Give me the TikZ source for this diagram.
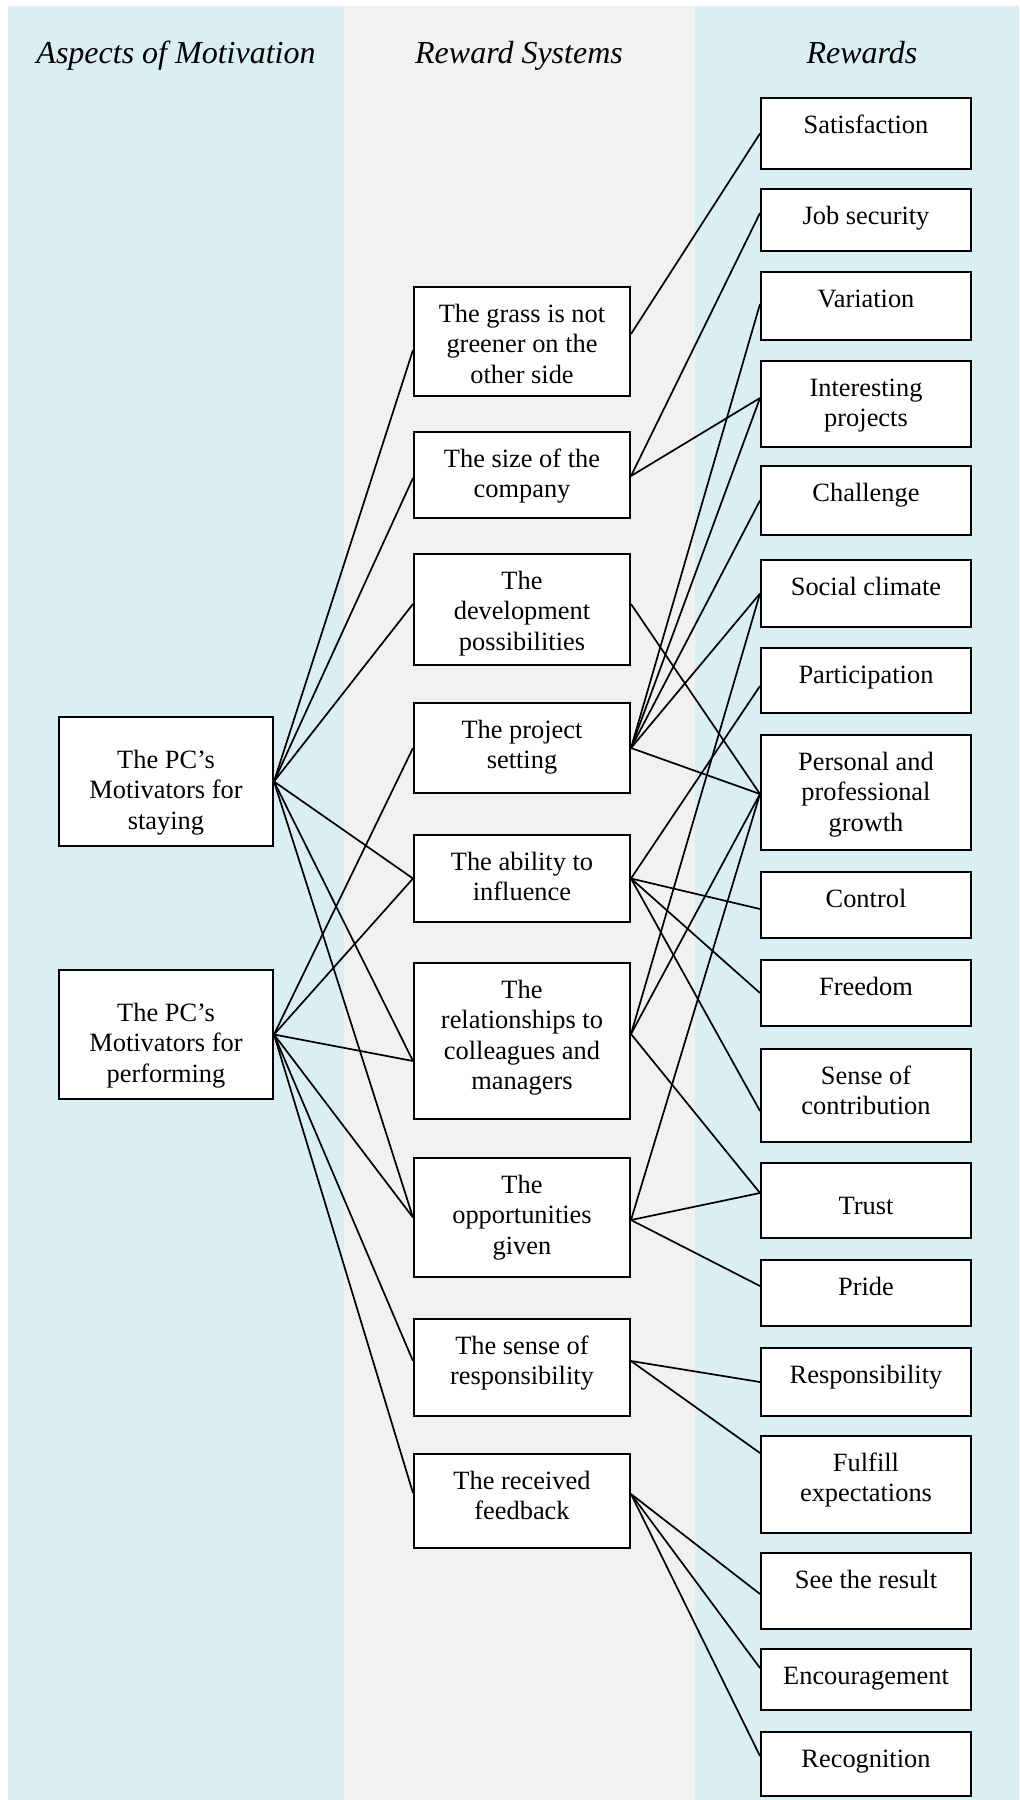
\documentclass[tikz,border=0pt]{standalone}
\usepackage{fontspec}
\setmainfont{Liberation Serif}
\usetikzlibrary{calc}
\definecolor{bluebg}{HTML}{DAEEF3}
\definecolor{greybg}{HTML}{F1F1F1}
% #1 width, #2 height, #3 first baseline from top, #4 text
\newcommand\bxt[4]{\parbox[c][#2][t]{#1}{\centering\rule{0pt}{#3}#4\par}}
\tikzset{
  box/.style={draw=black, line width=1pt, fill=white, inner sep=0pt, anchor=north west,
              font=\fontsize{13.2}{15.3}\selectfont},
  hdr/.style={font=\fontsize{16}{19}\selectfont\itshape, anchor=base, inner sep=0pt},
  conn/.style={line width=0.85pt, black}
}
\begin{document}
\begin{tikzpicture}[x=0.5pt, y=-0.5pt]
\useasboundingbox (0,0) rectangle (1019,1800);
% column backgrounds
\fill[bluebg] (8,6) rectangle (344,1800);
\fill[greybg] (344,6) rectangle (695,1800);
\fill[bluebg] (695,6) rectangle (1019,1800);

% headers
\node[hdr] (h1) at (176,63) {Aspects of Motivation};
\node[hdr] (h2) at (519,63) {Reward Systems};
\node[hdr] (h3) at (862,63) {Rewards};

% left column
\node[box] (stay) at (58,716) {\bxt{107pt}{64.5pt}{25.5pt}{The PC’s\\Motivators for\\staying}};
\node[box] (perf) at (58,969) {\bxt{107pt}{64.5pt}{25.5pt}{The PC’s\\Motivators for\\performing}};

% middle column
\node[box] (grass) at (413,286)  {\bxt{108pt}{54.5pt}{17.5pt}{The grass is not\\greener on the\\other side}};
\node[box] (size)  at (413,431)  {\bxt{108pt}{43pt}{17.5pt}{The size of the\\company}};
\node[box] (dev)   at (413,553)  {\bxt{108pt}{55.5pt}{17.5pt}{The\\development\\possibilities}};
\node[box] (proj)  at (413,702)  {\bxt{108pt}{45pt}{17.5pt}{The project\\setting}};
\node[box] (abil)  at (413,834)  {\bxt{108pt}{43.5pt}{17.5pt}{The ability to\\influence}};
\node[box] (rel)   at (413,962)  {\bxt{108pt}{78pt}{17.5pt}{The\\relationships to\\colleagues and\\managers}};
\node[box] (opp)   at (413,1157) {\bxt{108pt}{59.5pt}{17.5pt}{The\\opportunities\\given}};
\node[box] (sens)  at (413,1318) {\bxt{108pt}{48.5pt}{17.5pt}{The sense of\\responsibility}};
\node[box] (feed)  at (413,1453) {\bxt{108pt}{47pt}{17.5pt}{The received\\feedback}};

% right column
\node[box] (sat) at (760,97)   {\bxt{105pt}{35.5pt}{17.5pt}{Satisfaction}};
\node[box] (job) at (760,188)  {\bxt{105pt}{31pt}{17.5pt}{Job security}};
\node[box] (var) at (760,271)  {\bxt{105pt}{34pt}{17.5pt}{Variation}};
\node[box] (int) at (760,360)  {\bxt{105pt}{43pt}{17.5pt}{Interesting\\projects}};
\node[box] (cha) at (760,465)  {\bxt{105pt}{34.5pt}{17.5pt}{Challenge}};
\node[box] (soc) at (760,559)  {\bxt{105pt}{33.5pt}{17.5pt}{Social climate}};
\node[box] (par) at (760,647)  {\bxt{105pt}{32.5pt}{17.5pt}{Participation}};
\node[box] (pgr) at (760,734)  {\bxt{105pt}{57.5pt}{17.5pt}{Personal and\\professional\\growth}};
\node[box] (con) at (760,871)  {\bxt{105pt}{33pt}{17.5pt}{Control}};
\node[box] (fre) at (760,959)  {\bxt{105pt}{33pt}{17.5pt}{Freedom}};
\node[box] (sec) at (760,1048) {\bxt{105pt}{46.5pt}{17.5pt}{Sense of\\contribution}};
\node[box] (tru) at (760,1162) {\bxt{105pt}{37.5pt}{25.5pt}{Trust}};
\node[box] (pri) at (760,1259) {\bxt{105pt}{33pt}{17.5pt}{Pride}};
\node[box] (res) at (760,1347) {\bxt{105pt}{34pt}{17.5pt}{Responsibility}};
\node[box] (ful) at (760,1435) {\bxt{105pt}{48.5pt}{17.5pt}{Fulfill\\expectations}};
\node[box] (see) at (760,1552) {\bxt{105pt}{38pt}{17.5pt}{See the result}};
\node[box] (enc) at (760,1648) {\bxt{105pt}{30.5pt}{17.5pt}{Encouragement}};
\node[box] (rec) at (760,1731) {\bxt{105pt}{32pt}{17.5pt}{Recognition}};

% left -> middle
\draw[conn] (stay.east) -- ($(grass.west)+(0,8.5)$);
\draw[conn] (stay.east) -- ($(size.west)+(0,3)$);
\draw[conn] (stay.east) -- ($(dev.west)+(0,-5.5)$);
\draw[conn] (stay.east) -- (abil.west);
\draw[conn] (stay.east) -- ($(rel.west)+(0,20)$);
\draw[conn] (stay.east) -- (opp.west);
\draw[conn] (perf.east) -- (proj.west);
\draw[conn] (perf.east) -- (abil.west);
\draw[conn] (perf.east) -- ($(rel.west)+(0,20)$);
\draw[conn] (perf.east) -- (opp.west);
\draw[conn] (perf.east) -- ($(sens.west)+(0,-6.5)$);
\draw[conn] (perf.east) -- ($(feed.west)+(0,-8)$);

% middle -> right
\draw[conn] ($(grass.east)+(0,-7.5)$) -- (sat.west);
\draw[conn] ($(size.east)+(0,1)$) -- ($(job.west)+(0,-7)$);
\draw[conn] ($(size.east)+(0,1)$) -- ($(int.west)+(0,-6)$);
\draw[conn] ($(dev.east)+(0,-5.5)$) -- ($(pgr.west)+(0,1.5)$);
\draw[conn] (proj.east) -- ($(var.west)+(0,-2)$);
\draw[conn] (proj.east) -- ($(int.west)+(0,-6)$);
\draw[conn] (proj.east) -- (cha.west);
\draw[conn] (proj.east) -- (soc.west);
\draw[conn] (proj.east) -- ($(pgr.west)+(0,1.5)$);
\draw[conn] (abil.east) -- ($(par.west)+(0,5.5)$);
\draw[conn] (abil.east) -- ($(con.west)+(0,4)$);
\draw[conn] (abil.east) -- (fre.west);
\draw[conn] (abil.east) -- ($(sec.west)+(0,15.5)$);
\draw[conn] ($(rel.east)+(0,-7)$) -- (soc.west);
\draw[conn] ($(rel.east)+(0,-7)$) -- ($(pgr.west)+(0,1.5)$);
\draw[conn] ($(rel.east)+(0,-7)$) -- ($(tru.west)+(0,-7.5)$);
\draw[conn] ($(opp.east)+(0,2.5)$) -- ($(pgr.west)+(0,1.5)$);
\draw[conn] ($(opp.east)+(0,2.5)$) -- ($(tru.west)+(0,-7.5)$);
\draw[conn] ($(opp.east)+(0,2.5)$) -- ($(pri.west)+(0,-7)$);
\draw[conn] ($(sens.east)+(0,-6.5)$) -- (res.west);
\draw[conn] ($(sens.east)+(0,-6.5)$) -- ($(ful.west)+(0,-31.5)$);
\draw[conn] ($(feed.east)+(0,-7)$) -- ($(see.west)+(0,3)$);
\draw[conn] ($(feed.east)+(0,-7)$) -- ($(enc.west)+(0,-11.5)$);
\draw[conn] ($(feed.east)+(0,-7)$) -- ($(rec.west)+(0,-8)$);
\end{tikzpicture}
\end{document}
